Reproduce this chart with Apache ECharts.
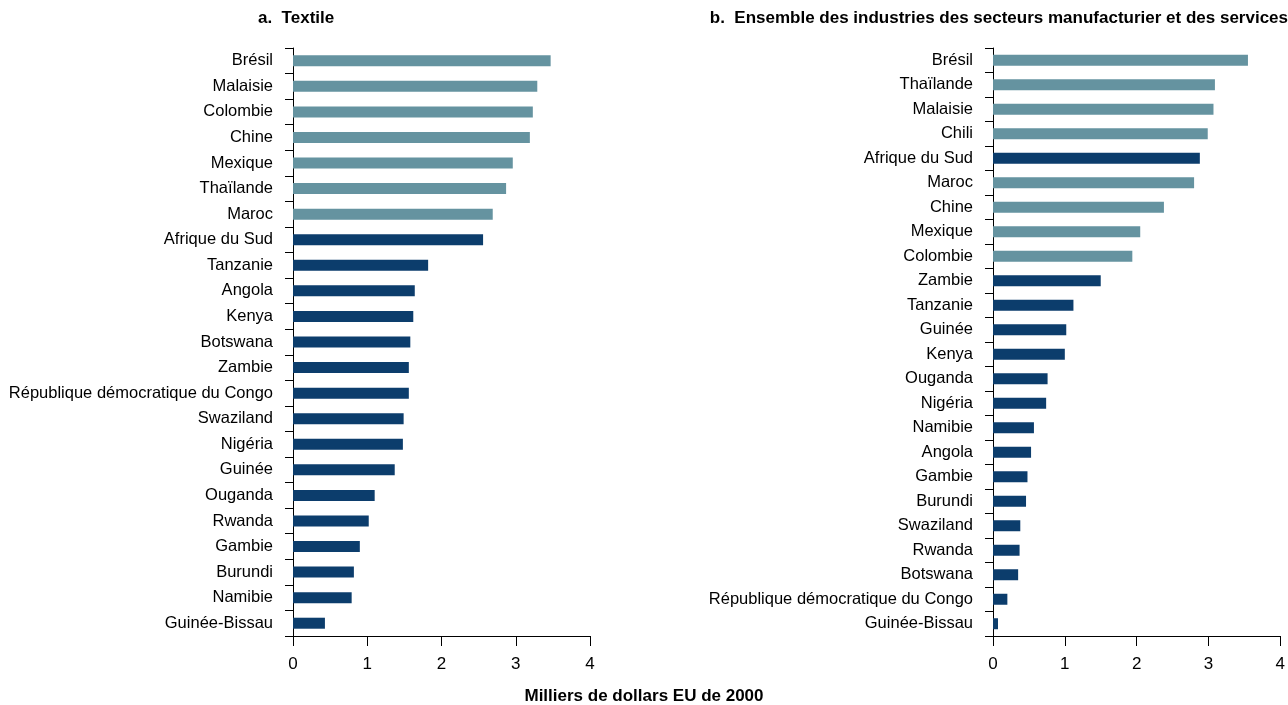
<!DOCTYPE html>
<html>
<head>
<meta charset="utf-8">
<script src="https://cdn.jsdelivr.net/npm/echarts@6/dist/echarts.min.js"></script>
<style>
html,body{margin:0;padding:0;background:#fff;}
#c{width:1288px;height:705px;}
</style>
</head>
<body>
<div id="c"></div>
<script>
// Panel a: Textile
var textileCountries = ["Brésil","Malaisie","Colombie","Chine","Mexique","Thaïlande","Maroc","Afrique du Sud","Tanzanie","Angola","Kenya","Botswana","Zambie","République démocratique du Congo","Swaziland","Nigéria","Guinée","Ouganda","Rwanda","Gambie","Burundi","Namibie","Guinée-Bissau"];
var textileValues = [3.47,3.29,3.23,3.19,2.96,2.87,2.69,2.56,1.82,1.64,1.62,1.58,1.56,1.56,1.49,1.48,1.37,1.10,1.02,0.90,0.82,0.79,0.43];
var textileAfrica = [0,0,0,0,0,0,0,1,1,1,1,1,1,1,1,1,1,1,1,1,1,1,1];

// Panel b: all manufacturing and services industries
var allCountries = ["Brésil","Thaïlande","Malaisie","Chili","Afrique du Sud","Maroc","Chine","Mexique","Colombie","Zambie","Tanzanie","Guinée","Kenya","Ouganda","Nigéria","Namibie","Angola","Gambie","Burundi","Swaziland","Rwanda","Botswana","République démocratique du Congo","Guinée-Bissau"];
var allValues = [3.55,3.09,3.07,2.99,2.88,2.80,2.38,2.05,1.94,1.50,1.12,1.02,1.00,0.76,0.74,0.57,0.53,0.48,0.46,0.38,0.37,0.35,0.20,0.07];
var allAfrica = [0,0,0,0,1,0,0,0,0,1,1,1,1,1,1,1,1,1,1,1,1,1,1,1];

var xTicks = [0,1,2,3,4];
var titleA = "a.  Textile";
var titleB = "b.  Ensemble des industries des secteurs manufacturier et des services";
var xAxisName = "Milliers de dollars EU de 2000";

var TEAL = "#6593a0";
var NAVY = "#0c3d6c";
var FONT = "'Liberation Sans', Arial, sans-serif";

function mkData(vals, afr){
  return vals.map(function(v,i){ return {value:v, itemStyle:{color: afr[i] ? NAVY : TEAL}}; });
}

function xAx(idx){
  return {
    type:'value', gridIndex:idx, min:xTicks[0], max:xTicks[xTicks.length-1], interval:1,
    axisLine:{show:true, onZero:false, lineStyle:{color:'#000', width:1}},
    axisTick:{show:true, length:10, lineStyle:{color:'#000'}},
    axisLabel:{color:'#000', fontSize:17, fontFamily:FONT, margin:20},
    splitLine:{show:false}
  };
}
function yAx(idx, cats){
  return {
    type:'category', gridIndex:idx, data:cats, inverse:true,
    axisLine:{show:true, lineStyle:{color:'#000', width:1}},
    axisTick:{show:true, length:8, alignWithLabel:false, lineStyle:{color:'#000'}},
    axisLabel:{color:'#000', fontSize:16.5, fontFamily:FONT, margin:20},
    splitLine:{show:false}
  };
}

var chart = echarts.init(document.getElementById('c'), null, {renderer:'canvas'});
chart.setOption({
  animation:false,
  backgroundColor:'#fff',
  grid:[
    {left:293, right:698, top:48, bottom:69, containLabel:false},
    {left:993, right:2, top:48, bottom:69, containLabel:false}
  ],
  xAxis:[xAx(0), xAx(1)],
  yAxis:[yAx(0, textileCountries), yAx(1, allCountries)],
  series:[
    {type:'bar', xAxisIndex:0, yAxisIndex:0, data:mkData(textileValues, textileAfrica), barWidth:11},
    {type:'bar', xAxisIndex:1, yAxisIndex:1, data:mkData(allValues, allAfrica), barWidth:11}
  ],
  graphic:[
    {type:'text', left:258, top:10, style:{text:titleA, font:"bold 17px "+FONT, fill:'#000'}},
    {type:'text', right:0, top:10, style:{text:titleB, font:"bold 17px "+FONT, fill:'#000'}},
    {type:'text', left:'center', top:688, style:{text:xAxisName, font:"bold 17px "+FONT, fill:'#000'}}
  ]
});
</script>
</body>
</html>
